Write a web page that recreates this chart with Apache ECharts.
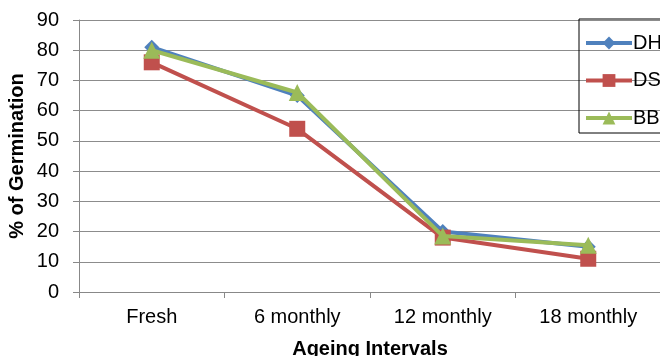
<!DOCTYPE html>
<html><head><meta charset="utf-8">
<script src="https://cdn.jsdelivr.net/npm/echarts@6/dist/echarts.min.js"></script>
<style>html,body{margin:0;padding:0;background:#fff}#c{width:660px;height:356px}</style>
</head><body><div id="c"></div>
<script>
const categories = ['Fresh', '6 monthly', '12 monthly', '18 monthly'];
const dh = [81, 65, 20, 15];
const ds = [76, 54, 18, 11];
const bb = [80, 66, 18.5, 15.5];
const yTicks = [0, 10, 20, 30, 40, 50, 60, 70, 80, 90];

const chart = echarts.init(document.getElementById('c'), null, {renderer: 'canvas'});
const font = 'Liberation Sans, Arial, sans-serif';
chart.setOption({
  animation: false,
  textStyle: {fontFamily: font},
  grid: {left: 79, right: -1, top: 20, bottom: 64, containLabel: false, outerBoundsMode: 'none'},
  legend: {
    orient: 'vertical', left: 579, top: 19,
    borderColor: '#000', borderWidth: 1,
    padding: [14, 30, 5, 5],
    itemWidth: 46, itemHeight: 16, itemGap: 17.5,
    lineStyle: {width: 4},
    textStyle: {fontSize: 20, color: '#000', fontFamily: font, padding: [0,0,0,-4]},
    data: ['DH', 'DS', 'BB']
  },
  xAxis: {
    type: 'category', data: categories, boundaryGap: true,
    name: 'Ageing Intervals', nameLocation: 'middle', nameGap: 47, nameMoveOverlap: false,
    nameTextStyle: {fontSize: 20, fontWeight: 'bold', color: '#000', fontFamily: font},
    axisLine: {lineStyle: {color: '#888', width: 1}},
    axisTick: {show: true, length: 6, lineStyle: {color: '#888'}},
    axisLabel: {fontSize: 20, color: '#000', margin: 15, fontFamily: font}
  },
  yAxis: {
    type: 'value', min: 0, max: 90, interval: 10,
    name: '% of Germination', nameLocation: 'middle', nameGap: 52, nameRotate: 90, nameMoveOverlap: false,
    nameTextStyle: {fontSize: 20, fontWeight: 'bold', color: '#000', fontFamily: font},
    axisLine: {show: true, lineStyle: {color: '#888', width: 1}},
    axisTick: {show: true, length: 6, lineStyle: {color: '#888'}},
    axisLabel: {fontSize: 20, color: '#000', margin: 20, fontFamily: font,
      formatter: v => yTicks.includes(v) ? String(v) : ''},
    splitLine: {show: true, lineStyle: {color: '#8c8c8c', width: 1}}
  },
  series: [
    {name: 'DH', type: 'line', data: dh, symbol: 'diamond', symbolSize: 15,
     itemStyle: {color: '#4F81BD'}, lineStyle: {width: 4, color: '#4F81BD'}, z: 2},
    {name: 'DS', type: 'line', data: ds, symbol: 'rect', symbolSize: 16,
     itemStyle: {color: '#C0504D'}, lineStyle: {width: 4, color: '#C0504D'}, z: 3},
    {name: 'BB', type: 'line', data: bb, symbol: 'triangle', symbolSize: 17,
     itemStyle: {color: '#9BBB59'}, lineStyle: {width: 4, color: '#9BBB59'}, z: 4}
  ]
});
</script></body></html>
